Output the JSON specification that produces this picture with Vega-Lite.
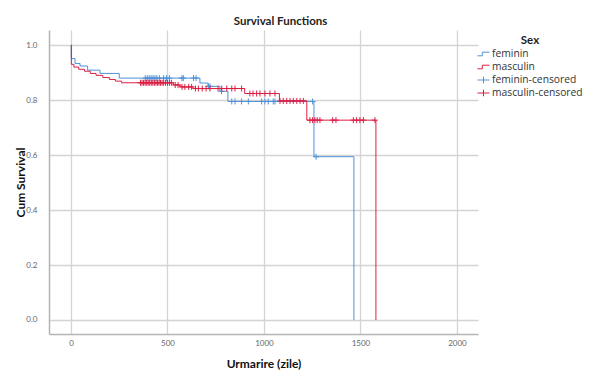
{
  "$schema": "https://vega.github.io/schema/vega-lite/v6.json",
  "width": 429,
  "height": 304,
  "autosize": "none",
  "padding": {"left": 49, "top": 30, "right": 115, "bottom": 37},
  "background": "white",
  "title": {"text": "Survival Functions", "font": "Lato", "fontSize": 11.5, "fontWeight": "bold", "color": "#222", "anchor": "middle", "dx": 17, "offset": 3},
  "config": {
    "view": {"stroke": null},
    "axis": {
      "domainColor": "#b5b5b5", "domainWidth": 1.5,
      "gridColor": "#d4d4d4", "gridWidth": 1.3,
      "ticks": false,
      "labelFont": "Lato", "labelFontSize": 8, "labelColor": "#666",
      "titleFont": "Lato", "titleFontSize": 12, "titleFontWeight": "bold", "titleColor": "#111"
    }
  },
  "datasets": {
    "curves": [
      {"t": 0, "s": 1.0, "sex": "feminin"},
      {"t": 1, "s": 0.951, "sex": "feminin"},
      {"t": 21, "s": 0.933, "sex": "feminin"},
      {"t": 47, "s": 0.924, "sex": "feminin"},
      {"t": 86, "s": 0.909, "sex": "feminin"},
      {"t": 150, "s": 0.897, "sex": "feminin"},
      {"t": 250, "s": 0.88, "sex": "feminin"},
      {"t": 668, "s": 0.862, "sex": "feminin"},
      {"t": 710, "s": 0.85, "sex": "feminin"},
      {"t": 772, "s": 0.832, "sex": "feminin"},
      {"t": 813, "s": 0.795, "sex": "feminin"},
      {"t": 1259, "s": 0.594, "sex": "feminin"},
      {"t": 1466, "s": 0.0, "sex": "feminin"},
      {"t": 0, "s": 1.0, "sex": "masculin"},
      {"t": 2, "s": 0.93, "sex": "masculin"},
      {"t": 15, "s": 0.92, "sex": "masculin"},
      {"t": 40, "s": 0.912, "sex": "masculin"},
      {"t": 70, "s": 0.905, "sex": "masculin"},
      {"t": 100, "s": 0.897, "sex": "masculin"},
      {"t": 130, "s": 0.89, "sex": "masculin"},
      {"t": 165, "s": 0.882, "sex": "masculin"},
      {"t": 200, "s": 0.875, "sex": "masculin"},
      {"t": 230, "s": 0.869, "sex": "masculin"},
      {"t": 262, "s": 0.863, "sex": "masculin"},
      {"t": 530, "s": 0.855, "sex": "masculin"},
      {"t": 565, "s": 0.848, "sex": "masculin"},
      {"t": 632, "s": 0.842, "sex": "masculin"},
      {"t": 900, "s": 0.824, "sex": "masculin"},
      {"t": 1080, "s": 0.797, "sex": "masculin"},
      {"t": 1222, "s": 0.727, "sex": "masculin"},
      {"t": 1580, "s": 0.0, "sex": "masculin"}
    ],
    "censored": [
      {"t": 385, "s": 0.88, "sex": "feminin-censored"},
      {"t": 395, "s": 0.88, "sex": "feminin-censored"},
      {"t": 405, "s": 0.88, "sex": "feminin-censored"},
      {"t": 415, "s": 0.88, "sex": "feminin-censored"},
      {"t": 425, "s": 0.88, "sex": "feminin-censored"},
      {"t": 435, "s": 0.88, "sex": "feminin-censored"},
      {"t": 445, "s": 0.88, "sex": "feminin-censored"},
      {"t": 458, "s": 0.88, "sex": "feminin-censored"},
      {"t": 480, "s": 0.88, "sex": "feminin-censored"},
      {"t": 495, "s": 0.88, "sex": "feminin-censored"},
      {"t": 510, "s": 0.88, "sex": "feminin-censored"},
      {"t": 575, "s": 0.88, "sex": "feminin-censored"},
      {"t": 582, "s": 0.88, "sex": "feminin-censored"},
      {"t": 635, "s": 0.88, "sex": "feminin-censored"},
      {"t": 648, "s": 0.88, "sex": "feminin-censored"},
      {"t": 712, "s": 0.85, "sex": "feminin-censored"},
      {"t": 720, "s": 0.85, "sex": "feminin-censored"},
      {"t": 780, "s": 0.832, "sex": "feminin-censored"},
      {"t": 833, "s": 0.795, "sex": "feminin-censored"},
      {"t": 850, "s": 0.795, "sex": "feminin-censored"},
      {"t": 884, "s": 0.795, "sex": "feminin-censored"},
      {"t": 919, "s": 0.795, "sex": "feminin-censored"},
      {"t": 988, "s": 0.795, "sex": "feminin-censored"},
      {"t": 1005, "s": 0.795, "sex": "feminin-censored"},
      {"t": 1022, "s": 0.795, "sex": "feminin-censored"},
      {"t": 1048, "s": 0.795, "sex": "feminin-censored"},
      {"t": 1057, "s": 0.795, "sex": "feminin-censored"},
      {"t": 1252, "s": 0.795, "sex": "feminin-censored"},
      {"t": 1270, "s": 0.594, "sex": "feminin-censored"},
      {"t": 360, "s": 0.863, "sex": "masculin-censored"},
      {"t": 368, "s": 0.863, "sex": "masculin-censored"},
      {"t": 376, "s": 0.863, "sex": "masculin-censored"},
      {"t": 384, "s": 0.863, "sex": "masculin-censored"},
      {"t": 392, "s": 0.863, "sex": "masculin-censored"},
      {"t": 400, "s": 0.863, "sex": "masculin-censored"},
      {"t": 408, "s": 0.863, "sex": "masculin-censored"},
      {"t": 416, "s": 0.863, "sex": "masculin-censored"},
      {"t": 424, "s": 0.863, "sex": "masculin-censored"},
      {"t": 432, "s": 0.863, "sex": "masculin-censored"},
      {"t": 440, "s": 0.863, "sex": "masculin-censored"},
      {"t": 448, "s": 0.863, "sex": "masculin-censored"},
      {"t": 456, "s": 0.863, "sex": "masculin-censored"},
      {"t": 464, "s": 0.863, "sex": "masculin-censored"},
      {"t": 472, "s": 0.863, "sex": "masculin-censored"},
      {"t": 480, "s": 0.863, "sex": "masculin-censored"},
      {"t": 490, "s": 0.863, "sex": "masculin-censored"},
      {"t": 500, "s": 0.863, "sex": "masculin-censored"},
      {"t": 510, "s": 0.863, "sex": "masculin-censored"},
      {"t": 520, "s": 0.863, "sex": "masculin-censored"},
      {"t": 540, "s": 0.855, "sex": "masculin-censored"},
      {"t": 555, "s": 0.855, "sex": "masculin-censored"},
      {"t": 575, "s": 0.848, "sex": "masculin-censored"},
      {"t": 590, "s": 0.848, "sex": "masculin-censored"},
      {"t": 610, "s": 0.848, "sex": "masculin-censored"},
      {"t": 625, "s": 0.848, "sex": "masculin-censored"},
      {"t": 645, "s": 0.842, "sex": "masculin-censored"},
      {"t": 660, "s": 0.842, "sex": "masculin-censored"},
      {"t": 680, "s": 0.842, "sex": "masculin-censored"},
      {"t": 700, "s": 0.842, "sex": "masculin-censored"},
      {"t": 720, "s": 0.842, "sex": "masculin-censored"},
      {"t": 762, "s": 0.842, "sex": "masculin-censored"},
      {"t": 781, "s": 0.842, "sex": "masculin-censored"},
      {"t": 807, "s": 0.842, "sex": "masculin-censored"},
      {"t": 833, "s": 0.842, "sex": "masculin-censored"},
      {"t": 850, "s": 0.842, "sex": "masculin-censored"},
      {"t": 884, "s": 0.842, "sex": "masculin-censored"},
      {"t": 927, "s": 0.824, "sex": "masculin-censored"},
      {"t": 943, "s": 0.824, "sex": "masculin-censored"},
      {"t": 962, "s": 0.824, "sex": "masculin-censored"},
      {"t": 979, "s": 0.824, "sex": "masculin-censored"},
      {"t": 1005, "s": 0.824, "sex": "masculin-censored"},
      {"t": 1031, "s": 0.824, "sex": "masculin-censored"},
      {"t": 1057, "s": 0.824, "sex": "masculin-censored"},
      {"t": 1083, "s": 0.797, "sex": "masculin-censored"},
      {"t": 1100, "s": 0.797, "sex": "masculin-censored"},
      {"t": 1118, "s": 0.797, "sex": "masculin-censored"},
      {"t": 1135, "s": 0.797, "sex": "masculin-censored"},
      {"t": 1152, "s": 0.797, "sex": "masculin-censored"},
      {"t": 1170, "s": 0.797, "sex": "masculin-censored"},
      {"t": 1187, "s": 0.797, "sex": "masculin-censored"},
      {"t": 1204, "s": 0.797, "sex": "masculin-censored"},
      {"t": 1238, "s": 0.727, "sex": "masculin-censored"},
      {"t": 1252, "s": 0.727, "sex": "masculin-censored"},
      {"t": 1264, "s": 0.727, "sex": "masculin-censored"},
      {"t": 1276, "s": 0.727, "sex": "masculin-censored"},
      {"t": 1290, "s": 0.727, "sex": "masculin-censored"},
      {"t": 1356, "s": 0.727, "sex": "masculin-censored"},
      {"t": 1373, "s": 0.727, "sex": "masculin-censored"},
      {"t": 1463, "s": 0.727, "sex": "masculin-censored"},
      {"t": 1480, "s": 0.727, "sex": "masculin-censored"},
      {"t": 1497, "s": 0.727, "sex": "masculin-censored"},
      {"t": 1515, "s": 0.727, "sex": "masculin-censored"},
      {"t": 1575, "s": 0.727, "sex": "masculin-censored"}
    ]
  },
  "encoding": {
    "x": {"field": "t", "type": "quantitative", "title": "Urmarire (zile)",
      "scale": {"domain": [-114, 2109], "nice": false, "zero": false},
      "axis": {"values": [0, 500, 1000, 1500, 2000], "format": "d", "labelPadding": 5, "titlePadding": 11}},
    "y": {"field": "s", "type": "quantitative", "title": "Cum Survival",
      "scale": {"domain": [-0.051, 1.055], "nice": false, "zero": false},
      "axis": {"values": [0, 0.2, 0.4, 0.6, 0.8, 1.0], "format": ".1f", "labelPadding": 12, "titlePadding": -2}},
    "color": {"field": "sex", "type": "nominal", "title": "Sex",
      "scale": {"domain": ["feminin", "masculin", "feminin-censored", "masculin-censored"], "range": ["#4f92d8", "#dc1f45", "#4f92d8", "#dc1f45"]},
      "legend": {
        "orient": "none", "legendX": 428, "legendY": 5,
        "titleFont": "Lato", "titleFontSize": 11.5, "titleFontWeight": "bold", "titleColor": "#222", "titleAnchor": "middle", "titlePadding": 1,
        "labelFont": "Open Sans", "labelFontSize": 10.3, "labelColor": "#333", "labelOffset": 2, "labelLimit": 200,
        "symbolSize": 144, "symbolStrokeWidth": 1, "rowPadding": 1,
        "encode": {"symbols": {"update": {
          "shape": {"signal": "indexof(datum.value, 'censored') >= 0 ? 'M-1,0H1M0,-0.55V0.55' : 'M-1,0.3H-0.2V-0.3H1'"},
          "fill": {"value": "transparent"},
          "stroke": {"signal": "indexof(datum.value, 'masculin') >= 0 ? '#dc1f45' : '#4f92d8'"},
          "strokeWidth": {"value": 1},
          "opacity": {"value": 1}
        }}}
      }}
  },
  "layer": [
    {"data": {"name": "curves"}, "mark": {"type": "line", "interpolate": "step-after", "strokeWidth": 1}},
    {"data": {"name": "censored"}, "mark": {"type": "point", "shape": "M-1,0H1M0,-1V1", "filled": false, "size": 36, "strokeWidth": 1, "opacity": 1}}
  ]
}
